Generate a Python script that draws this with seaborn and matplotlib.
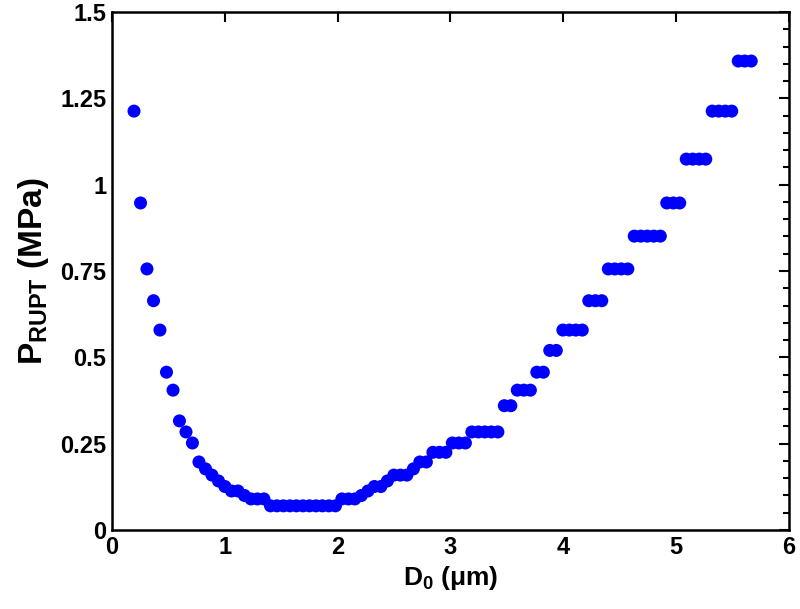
import matplotlib
matplotlib.use("Agg")
import matplotlib.pyplot as plt
from matplotlib.ticker import MultipleLocator, FixedLocator
import seaborn as sns
import pandas as pd

# Data
d0_um = [0.195, 0.253, 0.310, 0.368, 0.425, 0.483, 0.541, 0.598, 0.656, 0.713,
         0.771, 0.829, 0.886, 0.944, 1.001, 1.059, 1.117, 1.174, 1.232, 1.289,
         1.347, 1.405, 1.462, 1.520, 1.577, 1.635, 1.693, 1.750, 1.808, 1.865,
         1.923, 1.981, 2.038, 2.096, 2.153, 2.211, 2.269, 2.326, 2.384, 2.441,
         2.499, 2.557, 2.614, 2.672, 2.729, 2.787, 2.845, 2.902, 2.960, 3.017,
         3.075, 3.133, 3.190, 3.248, 3.305, 3.363, 3.421, 3.478, 3.536, 3.593,
         3.651, 3.709, 3.766, 3.824, 3.881, 3.939, 3.997, 4.054, 4.112, 4.169,
         4.227, 4.285, 4.342, 4.400, 4.457, 4.515, 4.573, 4.630, 4.688, 4.745,
         4.803, 4.861, 4.918, 4.976, 5.033, 5.091, 5.149, 5.206, 5.264, 5.321,
         5.379, 5.437, 5.494, 5.552, 5.609, 5.667]
p_rupt_mpa = [1.213, 0.947, 0.756, 0.664, 0.579, 0.457, 0.405, 0.316, 0.284, 0.252,
              0.197, 0.177, 0.159, 0.142, 0.126, 0.113, 0.113, 0.100, 0.090, 0.090,
              0.090, 0.070, 0.070, 0.070, 0.070, 0.070, 0.070, 0.070, 0.070, 0.070,
              0.070, 0.070, 0.090, 0.090, 0.090, 0.100, 0.113, 0.126, 0.126, 0.142,
              0.159, 0.159, 0.159, 0.177, 0.197, 0.197, 0.225, 0.225, 0.225, 0.252,
              0.252, 0.252, 0.284, 0.284, 0.284, 0.284, 0.284, 0.360, 0.360, 0.405,
              0.405, 0.405, 0.457, 0.457, 0.520, 0.520, 0.579, 0.579, 0.579, 0.579,
              0.664, 0.664, 0.664, 0.756, 0.756, 0.756, 0.756, 0.851, 0.851, 0.851,
              0.851, 0.851, 0.947, 0.947, 0.947, 1.074, 1.074, 1.074, 1.074, 1.213,
              1.213, 1.213, 1.213, 1.358, 1.358, 1.358]

x_ticks = [0, 1, 2, 3, 4, 5, 6]
x_tick_labels = ["0", "1", "2", "3", "4", "5", "6"]
y_ticks = [0, 0.25, 0.5, 0.75, 1.0, 1.25, 1.5]
y_tick_labels = ["0", "0.25", "0.5", "0.75", "1", "1.25", "1.5"]

df = pd.DataFrame({"D0": d0_um, "P": p_rupt_mpa})

sns.set_style("white")
plt.rcParams["font.family"] = ["Liberation Sans", "DejaVu Sans"]
plt.rcParams["font.weight"] = "bold"
plt.rcParams["text.color"] = "black"
plt.rcParams["axes.labelcolor"] = "black"
plt.rcParams["xtick.color"] = "black"
plt.rcParams["ytick.color"] = "black"
plt.rcParams["mathtext.fontset"] = "custom"
plt.rcParams["mathtext.rm"] = "Liberation Sans:bold"
plt.rcParams["mathtext.bf"] = "Liberation Sans:bold"
plt.rcParams["mathtext.it"] = "Liberation Sans:bold"

fig = plt.figure(figsize=(8.0, 6.09), dpi=100)
ax = fig.add_axes([0.14, 0.1297, 0.846, 0.8506])

sns.scatterplot(data=df, x="D0", y="P", ax=ax, color="#0000ff", s=88,
                edgecolor="none", linewidth=0, legend=False)

ax.set_xlim(0, 6)
ax.set_ylim(0, 1.5)
ax.xaxis.set_major_locator(FixedLocator(x_ticks))
ax.set_xticklabels(x_tick_labels)
ax.yaxis.set_major_locator(FixedLocator(y_ticks))
ax.set_yticklabels(y_tick_labels)
ax.yaxis.set_minor_locator(MultipleLocator(0.05))

ax.tick_params(which="both", direction="in", top=True, right=True,
               labelsize=17, width=1.5, colors="black", pad=4)
ax.tick_params(which="major", length=7)
ax.tick_params(which="minor", length=4)
for lab in ax.get_xticklabels() + ax.get_yticklabels():
    lab.set_fontweight("bold")
    lab.set_color("black")

for sp in ax.spines.values():
    sp.set_visible(True)
    sp.set_linewidth(1.8)
    sp.set_color("black")

ax.set_xlabel("D$_0$ (\u03bcm)", fontsize=19, fontweight="bold", labelpad=4,
              color="black")
ax.set_ylabel("P$_{\\mathrm{RUPT}}$ (MPa)", fontsize=24, fontweight="bold",
              labelpad=7, color="black")

fig.savefig("out.png", dpi=100, facecolor="white")
